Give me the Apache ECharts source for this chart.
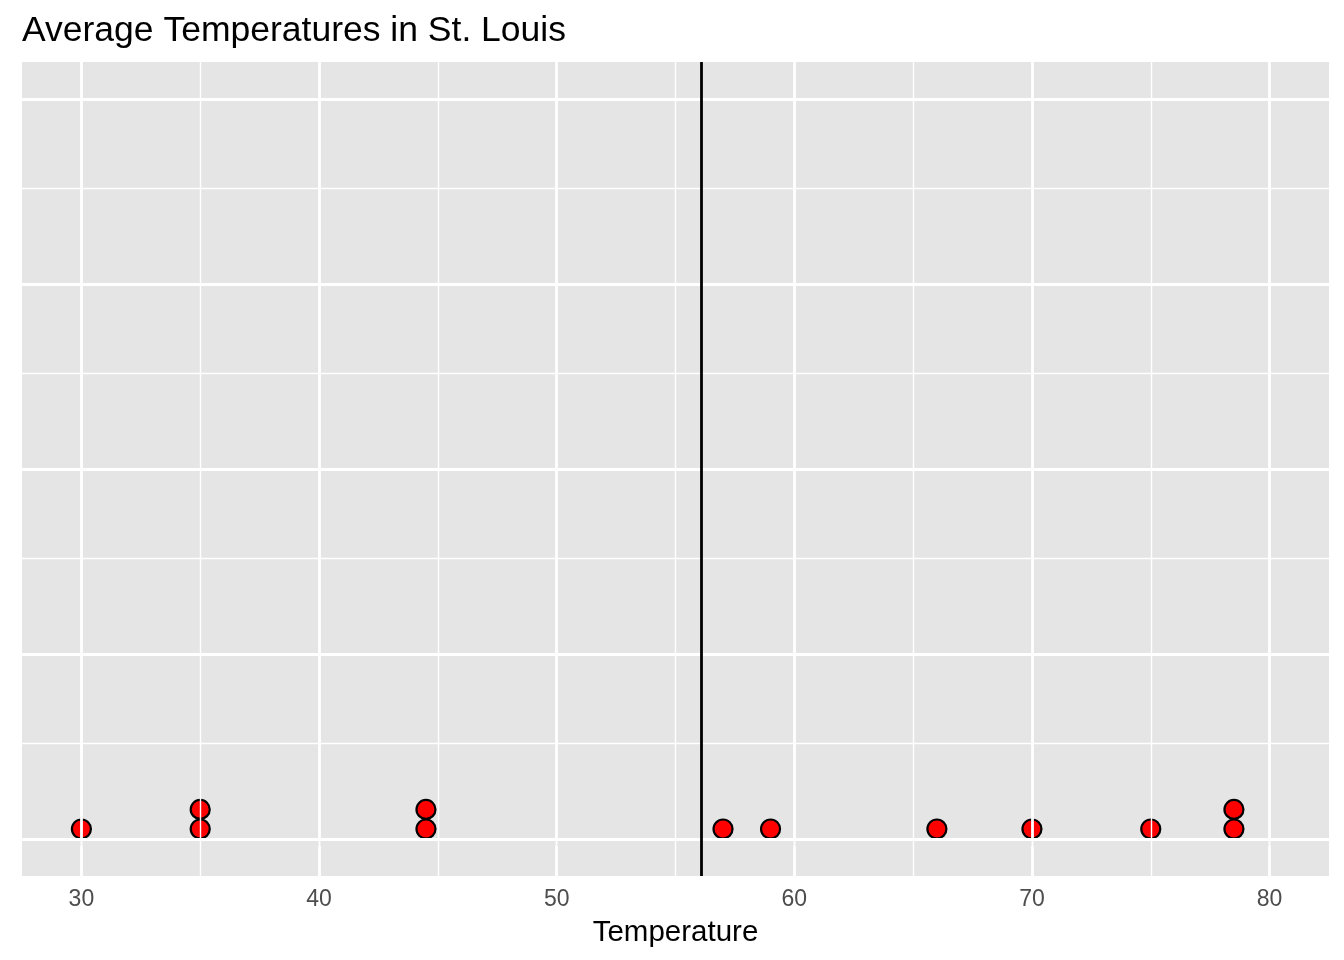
<!DOCTYPE html>
<html>
<head>
<meta charset="utf-8">
<script src="https://cdn.jsdelivr.net/npm/echarts@6/dist/echarts.min.js"></script>
<style>
html,body{margin:0;padding:0;background:#fff;}
#chart{width:1344px;height:960px;}
</style>
</head>
<body>
<div id="chart"></div>
<script>
// Data
const temps = [30, 35, 35, 44.5, 44.5, 57, 59, 66, 70, 75, 78.5, 78.5];
const dotY  = [0.0135, 0.0135, 0.040, 0.0135, 0.040, 0.0135, 0.0135, 0.0135, 0.0135, 0.0135, 0.0135, 0.040];
const xTicks = [30, 40, 50, 60, 70, 80];
const xMinor = [35, 45, 55, 65, 75];
const yMajor = [0, 0.25, 0.5, 0.75, 1];
const yMinor = [0.125, 0.375, 0.625, 0.875];
const meanTemp = temps.reduce((a, b) => a + b, 0) / temps.length;

const FONT = '"Liberation Sans", Arial, Helvetica, sans-serif';
const chart = echarts.init(document.getElementById('chart'), null, {renderer: 'canvas'});

function gridLines(vals, key, width) {
  return vals.map(v => ({[key]: v, lineStyle: {color: '#ffffff', width: width, type: 'solid'}}));
}

chart.setOption({
  animation: false,
  backgroundColor: '#ffffff',
  title: {
    text: 'Average Temperatures in St. Louis',
    left: 22, top: 13, padding: 0,
    textStyle: {fontFamily: FONT, fontSize: 35.5, fontWeight: 'normal', color: '#000000'}
  },
  grid: {
    left: 22, right: 15, top: 62, bottom: 84,
    show: true, backgroundColor: '#e5e5e5', borderWidth: 0
  },
  xAxis: {
    type: 'value', min: 27.5, max: 82.5,
    name: 'Temperature', nameLocation: 'middle', nameGap: 42,
    nameTextStyle: {fontFamily: FONT, fontSize: 29.5, color: '#000000'},
    axisLine: {show: false},
    axisTick: {show: true, customValues: xTicks, length: 7, lineStyle: {color: '#333333', width: 2.5}},
    axisLabel: {show: true, customValues: xTicks, margin: 12, fontFamily: FONT, fontSize: 23, color: '#4d4d4d'},
    splitLine: {show: false}
  },
  yAxis: {
    type: 'value', min: -0.05, max: 1.05,
    axisLine: {show: false}, axisTick: {show: false}, axisLabel: {show: false},
    splitLine: {show: false}
  },
  series: [
    {
      type: 'line', data: [], silent: true, z: 1,
      markLine: {
        silent: true, symbol: 'none', label: {show: false}, animation: false,
        data: [].concat(
          gridLines(xMinor, 'xAxis', 1.4),
          gridLines(yMinor, 'yAxis', 1.4),
          gridLines(xTicks, 'xAxis', 2.8),
          gridLines(yMajor, 'yAxis', 2.8)
        )
      }
    },
    {
      type: 'line', data: [], silent: true, z: 2,
      markLine: {
        silent: true, symbol: 'none', label: {show: false}, animation: false,
        data: [{xAxis: meanTemp, lineStyle: {color: '#000000', width: 2.8, type: 'solid'}}]
      }
    },
    {
      type: 'scatter', z: 3,
      data: temps.map((t, i) => [t, dotY[i]]),
      symbol: 'circle', symbolSize: 19,
      itemStyle: {color: '#ff0000', borderColor: '#000000', borderWidth: 2.2, opacity: 1}
    }
  ]
});
</script>
</body>
</html>
